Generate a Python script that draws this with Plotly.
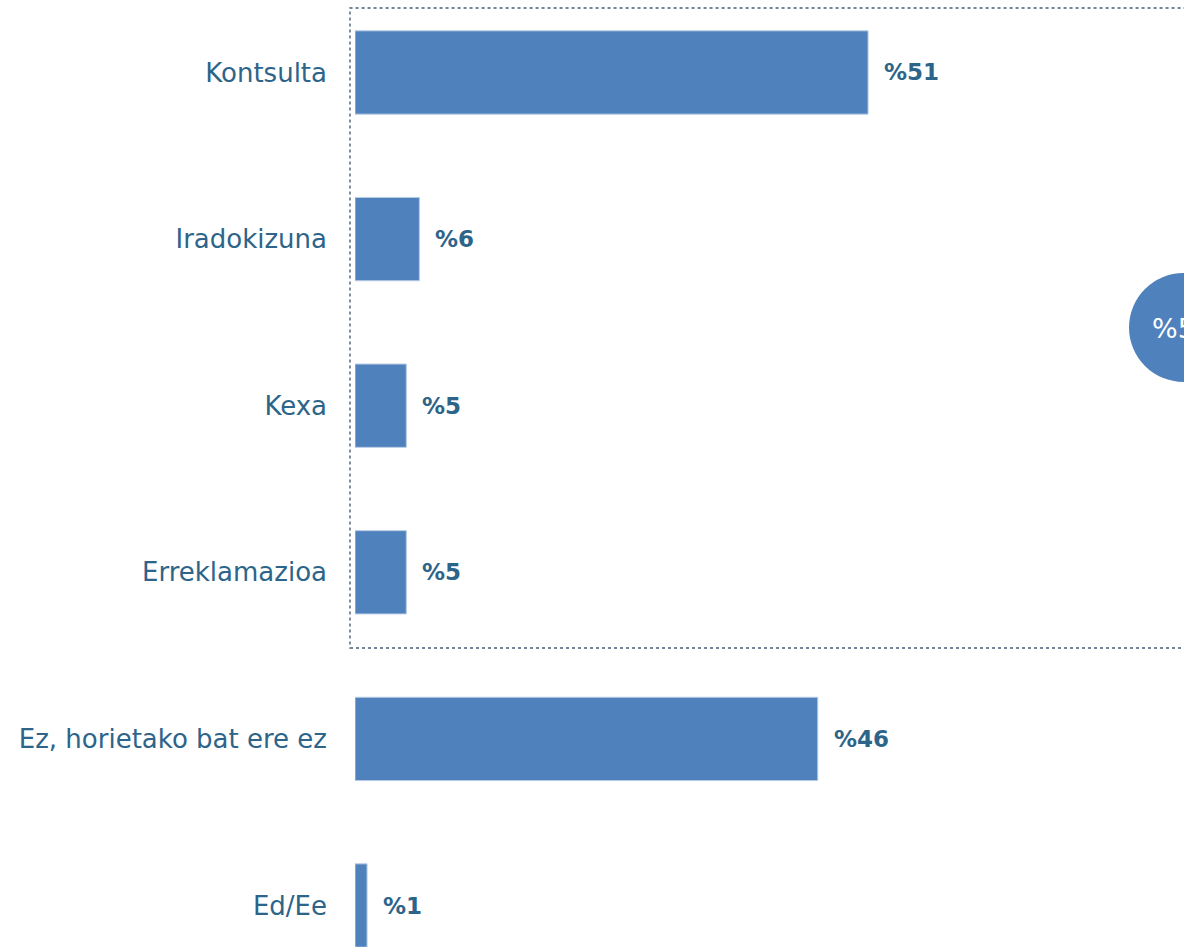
import plotly.graph_objects as go

categories = ["Kontsulta", "Iradokizuna", "Kexa", "Erreklamazioa", "Ez, horietako bat ere ez", "Ed/Ee"]
values = [51.0, 6.4, 5.1, 5.1, 46.0, 1.2]
labels = ["%51", "%6", "%5", "%5", "%46", "%1"]
circle_label = "%53"

BAR = "#4F81BD"
TXT = "#2D6489"
FONT = "DejaVu Sans"

W, H = 1184, 947
ML = 355
PW = W - ML

fig = go.Figure()
fig.add_trace(go.Bar(
    y=categories, x=values, orientation="h",
    marker=dict(color=BAR, line=dict(color="#B8CCE4", width=1)),
    width=0.5, hoverinfo="skip",
))

for c, v, t in zip(categories, values, labels):
    fig.add_annotation(x=v, y=c, text=f"<b>{t}</b>", showarrow=False,
                       xanchor="left", xshift=14,
                       font=dict(family=FONT, size=23, color=TXT))

# dotted frame around first four categories
fig.add_shape(type="rect", xref="paper", yref="paper",
              x0=-5 / PW, x1=1.01, y0=1 - 648 / H, y1=1 - 8 / H,
              line=dict(color="#4A5D78", width=1.4, dash="dot"),
              fillcolor="rgba(0,0,0,0)", layer="below")

# circle on the right
fig.add_shape(type="circle", xref="paper", yref="paper",
              x0=(1129 - ML) / PW, x1=(1238 - ML) / PW,
              y0=1 - 382 / H, y1=1 - 273 / H,
              line=dict(width=0), fillcolor=BAR)
fig.add_annotation(xref="paper", yref="paper", x=(1150 - ML) / PW, y=1 - 329 / H,
                   xanchor="left",
                   text=circle_label, showarrow=False,
                   font=dict(family=FONT, size=27, color="white"))

fig.update_layout(
    width=W, height=H,
    margin=dict(l=ML, r=0, t=0, b=0),
    paper_bgcolor="white", plot_bgcolor="white",
    showlegend=False,
    xaxis=dict(range=[0, PW / 10.06], visible=False),
    yaxis=dict(range=[5.249, -0.435], showgrid=False, zeroline=False,
               showline=False, ticks="", ticklabelstandoff=27,
               tickfont=dict(family=FONT, size=26, color=TXT)),
)

fig.write_html("out.html", config={"displayModeBar": False},
               post_script="document.body.style.margin='0';document.body.style.overflow='hidden';")
